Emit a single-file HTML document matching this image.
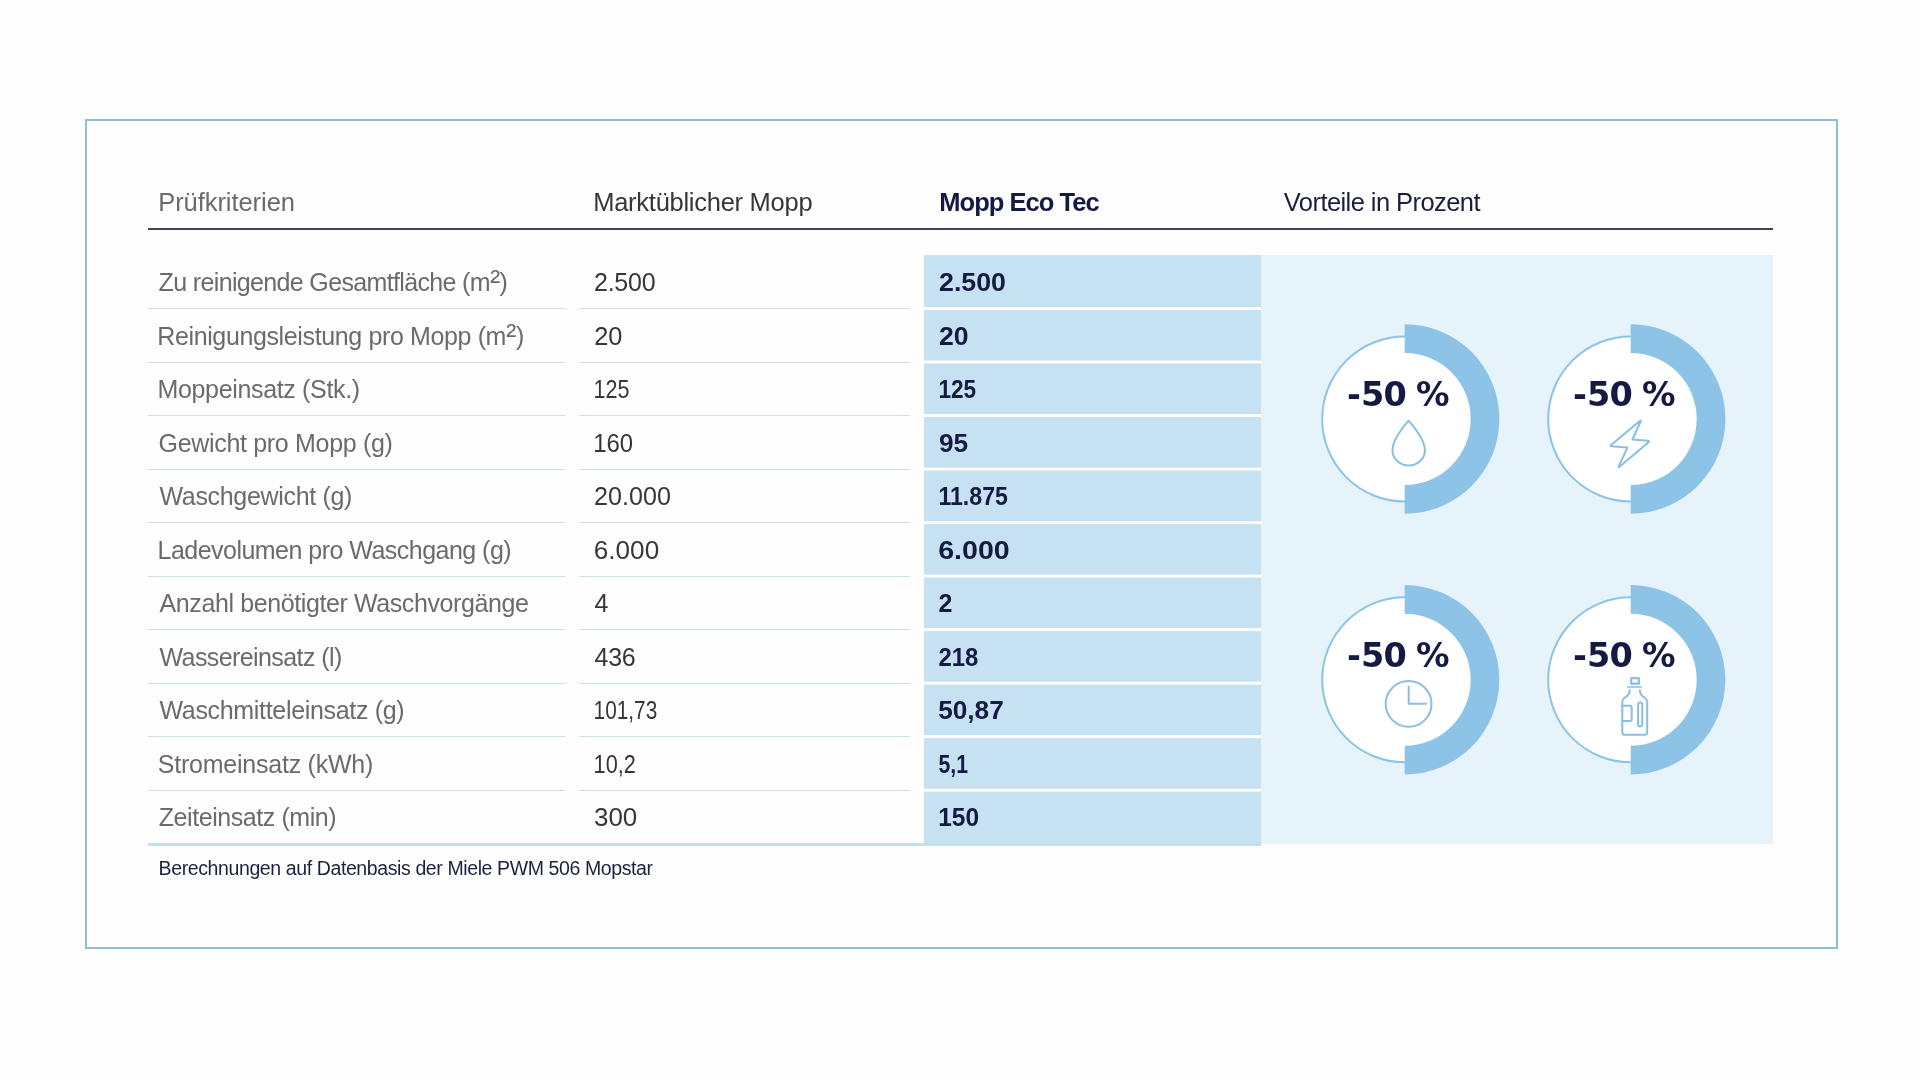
<!DOCTYPE html>
<html lang="de"><head><meta charset="utf-8"><title>Mopp Eco Tec Vergleich</title>
<style>
html,body{margin:0;padding:0;background:#fefefe;}
body{width:1920px;height:1080px;overflow:hidden;position:relative;}
svg{position:absolute;left:0;top:0;display:block;will-change:transform;}
</style></head><body>
<svg width="1920" height="1080" viewBox="0 0 1920 1080">
<rect x="86" y="120" width="1751" height="828" fill="none" stroke="#8fbcda" stroke-width="2"/>
<rect x="1261" y="255" width="512" height="589.2" fill="#e6f3fa"/>
<rect x="148" y="228" width="1625" height="2" fill="#43465a"/>
<rect x="924" y="255.00" width="337" height="52.02" fill="#c5e1f2"/>
<rect x="148" y="308" width="417.5" height="1" fill="#c9dfe9"/>
<rect x="579" y="308" width="331" height="1" fill="#c9dfe9"/>
<rect x="924" y="310.02" width="337" height="50.52" fill="#c5e1f2"/>
<rect x="148" y="362" width="417.5" height="1" fill="#c9dfe9"/>
<rect x="579" y="362" width="331" height="1" fill="#c9dfe9"/>
<rect x="924" y="363.54" width="337" height="50.52" fill="#c5e1f2"/>
<rect x="148" y="415" width="417.5" height="1" fill="#c9dfe9"/>
<rect x="579" y="415" width="331" height="1" fill="#c9dfe9"/>
<rect x="924" y="417.06" width="337" height="50.52" fill="#c5e1f2"/>
<rect x="148" y="469" width="417.5" height="1" fill="#c9dfe9"/>
<rect x="579" y="469" width="331" height="1" fill="#c9dfe9"/>
<rect x="924" y="470.58" width="337" height="50.52" fill="#c5e1f2"/>
<rect x="148" y="522" width="417.5" height="1" fill="#c9dfe9"/>
<rect x="579" y="522" width="331" height="1" fill="#c9dfe9"/>
<rect x="924" y="524.10" width="337" height="50.52" fill="#c5e1f2"/>
<rect x="148" y="576" width="417.5" height="1" fill="#c9dfe9"/>
<rect x="579" y="576" width="331" height="1" fill="#c9dfe9"/>
<rect x="924" y="577.62" width="337" height="50.52" fill="#c5e1f2"/>
<rect x="148" y="629" width="417.5" height="1" fill="#c9dfe9"/>
<rect x="579" y="629" width="331" height="1" fill="#c9dfe9"/>
<rect x="924" y="631.14" width="337" height="50.52" fill="#c5e1f2"/>
<rect x="148" y="683" width="417.5" height="1" fill="#c9dfe9"/>
<rect x="579" y="683" width="331" height="1" fill="#c9dfe9"/>
<rect x="924" y="684.66" width="337" height="50.52" fill="#c5e1f2"/>
<rect x="148" y="736" width="417.5" height="1" fill="#c9dfe9"/>
<rect x="579" y="736" width="331" height="1" fill="#c9dfe9"/>
<rect x="924" y="738.18" width="337" height="50.52" fill="#c5e1f2"/>
<rect x="148" y="790" width="417.5" height="1" fill="#c9dfe9"/>
<rect x="579" y="790" width="331" height="1" fill="#c9dfe9"/>
<rect x="924" y="791.70" width="337" height="53.80" fill="#c5e1f2"/>
<rect x="148" y="843" width="1113" height="3" fill="#c4dfe7"/>
<circle cx="1404.7" cy="419" r="82.5" fill="#fff" stroke="#8dc3e7" stroke-width="2"/>
<path d="M1404.7 324.3 A94.7 94.7 0 0 1 1404.7 513.7 L1404.7 485 A66 66 0 0 0 1404.7 353 Z" fill="#8dc3e7"/>
<circle cx="1404.7" cy="679.8" r="82.5" fill="#fff" stroke="#8dc3e7" stroke-width="2"/>
<path d="M1404.7 585.0999999999999 A94.7 94.7 0 0 1 1404.7 774.5 L1404.7 745.8 A66 66 0 0 0 1404.7 613.8 Z" fill="#8dc3e7"/>
<circle cx="1630.7" cy="419" r="82.5" fill="#fff" stroke="#8dc3e7" stroke-width="2"/>
<path d="M1630.7 324.3 A94.7 94.7 0 0 1 1630.7 513.7 L1630.7 485 A66 66 0 0 0 1630.7 353 Z" fill="#8dc3e7"/>
<circle cx="1630.7" cy="679.8" r="82.5" fill="#fff" stroke="#8dc3e7" stroke-width="2"/>
<path d="M1630.7 585.0999999999999 A94.7 94.7 0 0 1 1630.7 774.5 L1630.7 745.8 A66 66 0 0 0 1630.7 613.8 Z" fill="#8dc3e7"/>
<path d="M1408.6 420.7 C1404 426 1392.5 440 1392.5 450.2 A16.2 15.4 0 0 0 1424.9 450.2 C1424.9 440 1413.2 426 1408.6 420.7 Z" fill="none" stroke="#88bfe3" stroke-width="2" stroke-linejoin="round" stroke-linecap="round" stroke-width="2.2"/>
<path d="M1640.59 421.60 Q1641.50 419.60 1639.81 421.01 L1611.14 444.92 Q1609.60 446.20 1611.59 446.36 L1627.40 447.60 L1618.84 466.18 Q1618.00 468.00 1619.53 466.71 L1648.47 442.29 Q1650.00 441.00 1648.01 440.83 L1632.50 439.50 Z" fill="none" stroke="#88bfe3" stroke-width="2" stroke-linejoin="round" stroke-linecap="round" stroke-width="2.2"/>
<circle cx="1408.6" cy="703.9" r="22.9" fill="none" stroke="#88bfe3" stroke-width="2" stroke-linejoin="round" stroke-linecap="round" stroke-width="2.2"/>
<path d="M1408.7 686.5 V703.8 H1426" fill="none" stroke="#88bfe3" stroke-width="2" stroke-linejoin="round" stroke-linecap="round" stroke-width="2.3" stroke-linecap="butt"/>
<g fill="none" stroke="#88bfe3" stroke-width="2" stroke-linejoin="round" stroke-linecap="round" stroke-width="2"><path d="M1630.9 683.6 L1631.4 678.2 H1638.6 L1639.1 683.6 Z" stroke-width="2.3"/><path d="M1627.6 687 H1641.4" stroke-width="1.6"/><path d="M1629.6 690.3 C1629.6 695 1627 696.5 1624.5 698 C1622.8 699 1622.3 700 1622.3 702 V732.6 Q1622.3 734.7 1624.4 734.7 H1645.1 Q1647.2 734.7 1647.2 732.6 V702 C1647.2 700 1646.7 699 1645 698 C1642.5 696.5 1639.9 695 1639.9 690.3"/><path d="M1622.3 705.7 H1629.7 Q1631.7 705.7 1631.7 707.7 V719.1 Q1631.7 721.1 1629.7 721.1 H1622.3"/><rect x="1638.1" y="702.6" width="4.1" height="23.9" rx="2.05"/></g>
<text id="h1" x="158.20" y="210.90" style="font-family:'Liberation Sans',sans-serif;font-size:25.5px;font-weight:normal;fill:#6a6b6d" textLength="136.77" lengthAdjust="spacing">Prüfkriterien</text>
<text id="h2" x="593.20" y="210.90" style="font-family:'Liberation Sans',sans-serif;font-size:25.5px;font-weight:normal;fill:#35373b" textLength="219.42" lengthAdjust="spacing">Marktüblicher Mopp</text>
<text id="h3" x="939.20" y="210.90" style="font-family:'Liberation Sans',sans-serif;font-size:25.5px;font-weight:bold;fill:#141a42" textLength="160.57" lengthAdjust="spacing">Mopp Eco Tec</text>
<text id="h4" x="1283.80" y="210.90" style="font-family:'Liberation Sans',sans-serif;font-size:25.5px;font-weight:normal;fill:#1b1f3e" textLength="196.75" lengthAdjust="spacing">Vorteile in Prozent</text>
<text id="a0" x="158.62" y="291.20" style="font-family:'Liberation Sans',sans-serif;font-size:25px;font-weight:normal;fill:#6a6b6d" textLength="349.31" lengthAdjust="spacing">Zu reinigende Gesamtfläche (m<tspan style="font-size:31px">²</tspan>)</text>
<text id="b0" x="594.00" y="291.20" style="font-family:'Liberation Sans',sans-serif;font-size:25px;font-weight:normal;fill:#35373b" textLength="61.56" lengthAdjust="spacing">2.500</text>
<text id="c0" x="939.00" y="291.20" style="font-family:'Liberation Sans',sans-serif;font-size:25px;font-weight:bold;fill:#141a42" textLength="66.96" lengthAdjust="spacingAndGlyphs">2.500</text>
<text id="a1" x="157.22" y="344.72" style="font-family:'Liberation Sans',sans-serif;font-size:25px;font-weight:normal;fill:#6a6b6d" textLength="367.10" lengthAdjust="spacing">Reinigungsleistung pro Mopp (m<tspan style="font-size:31px">²</tspan>)</text>
<text id="b1" x="594.20" y="344.72" style="font-family:'Liberation Sans',sans-serif;font-size:25px;font-weight:normal;fill:#35373b" textLength="28.21" lengthAdjust="spacingAndGlyphs">20</text>
<text id="c1" x="939.00" y="344.72" style="font-family:'Liberation Sans',sans-serif;font-size:25px;font-weight:bold;fill:#141a42" textLength="29.61" lengthAdjust="spacingAndGlyphs">20</text>
<text id="a2" x="157.50" y="398.24" style="font-family:'Liberation Sans',sans-serif;font-size:25px;font-weight:normal;fill:#6a6b6d" textLength="202.62" lengthAdjust="spacing">Moppeinsatz (Stk.)</text>
<text id="b2" x="593.60" y="398.24" style="font-family:'Liberation Sans',sans-serif;font-size:25px;font-weight:normal;fill:#35373b" textLength="35.92" lengthAdjust="spacingAndGlyphs">125</text>
<text id="c2" x="938.40" y="398.24" style="font-family:'Liberation Sans',sans-serif;font-size:25px;font-weight:bold;fill:#141a42" textLength="37.72" lengthAdjust="spacingAndGlyphs">125</text>
<text id="a3" x="158.50" y="451.76" style="font-family:'Liberation Sans',sans-serif;font-size:25px;font-weight:normal;fill:#6a6b6d" textLength="234.38" lengthAdjust="spacing">Gewicht pro Mopp (g)</text>
<text id="b3" x="593.20" y="451.76" style="font-family:'Liberation Sans',sans-serif;font-size:25px;font-weight:normal;fill:#35373b" textLength="39.92" lengthAdjust="spacingAndGlyphs">160</text>
<text id="c3" x="939.00" y="451.76" style="font-family:'Liberation Sans',sans-serif;font-size:25px;font-weight:bold;fill:#141a42" textLength="29.21" lengthAdjust="spacingAndGlyphs">95</text>
<text id="a4" x="159.50" y="505.28" style="font-family:'Liberation Sans',sans-serif;font-size:25px;font-weight:normal;fill:#6a6b6d" textLength="192.95" lengthAdjust="spacing">Waschgewicht (g)</text>
<text id="b4" x="594.00" y="505.28" style="font-family:'Liberation Sans',sans-serif;font-size:25px;font-weight:normal;fill:#35373b" textLength="76.87" lengthAdjust="spacingAndGlyphs">20.000</text>
<text id="c4" x="938.40" y="505.28" style="font-family:'Liberation Sans',sans-serif;font-size:25px;font-weight:bold;fill:#141a42" textLength="69.49" lengthAdjust="spacingAndGlyphs">11.875</text>
<text id="a5" x="157.50" y="558.80" style="font-family:'Liberation Sans',sans-serif;font-size:25px;font-weight:normal;fill:#6a6b6d" textLength="354.13" lengthAdjust="spacing">Ladevolumen pro Waschgang (g)</text>
<text id="b5" x="593.80" y="558.80" style="font-family:'Liberation Sans',sans-serif;font-size:25px;font-weight:normal;fill:#35373b" textLength="65.36" lengthAdjust="spacingAndGlyphs">6.000</text>
<text id="c5" x="938.20" y="558.80" style="font-family:'Liberation Sans',sans-serif;font-size:25px;font-weight:bold;fill:#141a42" textLength="71.56" lengthAdjust="spacingAndGlyphs">6.000</text>
<text id="a6" x="159.50" y="612.32" style="font-family:'Liberation Sans',sans-serif;font-size:25px;font-weight:normal;fill:#6a6b6d" textLength="369.45" lengthAdjust="spacing">Anzahl benötigter Waschvorgänge</text>
<text id="b6" x="594.60" y="612.32" style="font-family:'Liberation Sans',sans-serif;font-size:25px;font-weight:normal;fill:#35373b">4</text>
<text id="c6" x="938.40" y="612.32" style="font-family:'Liberation Sans',sans-serif;font-size:25px;font-weight:bold;fill:#141a42">2</text>
<text id="a7" x="159.50" y="665.84" style="font-family:'Liberation Sans',sans-serif;font-size:25px;font-weight:normal;fill:#6a6b6d" textLength="182.77" lengthAdjust="spacing">Wassereinsatz (l)</text>
<text id="b7" x="594.60" y="665.84" style="font-family:'Liberation Sans',sans-serif;font-size:25px;font-weight:normal;fill:#35373b" textLength="41.12" lengthAdjust="spacing">436</text>
<text id="c7" x="938.40" y="665.84" style="font-family:'Liberation Sans',sans-serif;font-size:25px;font-weight:bold;fill:#141a42" textLength="39.92" lengthAdjust="spacingAndGlyphs">218</text>
<text id="a8" x="159.50" y="719.36" style="font-family:'Liberation Sans',sans-serif;font-size:25px;font-weight:normal;fill:#6a6b6d" textLength="245.12" lengthAdjust="spacing">Waschmitteleinsatz (g)</text>
<text id="b8" x="593.60" y="719.36" style="font-family:'Liberation Sans',sans-serif;font-size:25px;font-weight:normal;fill:#35373b" textLength="63.67" lengthAdjust="spacingAndGlyphs">101,73</text>
<text id="c8" x="938.20" y="719.36" style="font-family:'Liberation Sans',sans-serif;font-size:25px;font-weight:bold;fill:#141a42" textLength="65.56" lengthAdjust="spacingAndGlyphs">50,87</text>
<text id="a9" x="157.70" y="772.88" style="font-family:'Liberation Sans',sans-serif;font-size:25px;font-weight:normal;fill:#6a6b6d" textLength="215.68" lengthAdjust="spacing">Stromeinsatz (kWh)</text>
<text id="b9" x="593.60" y="772.88" style="font-family:'Liberation Sans',sans-serif;font-size:25px;font-weight:normal;fill:#35373b" textLength="42.27" lengthAdjust="spacingAndGlyphs">10,2</text>
<text id="c9" x="938.40" y="772.88" style="font-family:'Liberation Sans',sans-serif;font-size:25px;font-weight:bold;fill:#141a42" textLength="29.57" lengthAdjust="spacingAndGlyphs">5,1</text>
<text id="a10" x="158.70" y="826.40" style="font-family:'Liberation Sans',sans-serif;font-size:25px;font-weight:normal;fill:#6a6b6d" textLength="177.97" lengthAdjust="spacing">Zeiteinsatz (min)</text>
<text id="b10" x="594.00" y="826.40" style="font-family:'Liberation Sans',sans-serif;font-size:25px;font-weight:normal;fill:#35373b" textLength="43.32" lengthAdjust="spacingAndGlyphs">300</text>
<text id="c10" x="938.20" y="826.40" style="font-family:'Liberation Sans',sans-serif;font-size:25px;font-weight:bold;fill:#141a42" textLength="40.92" lengthAdjust="spacingAndGlyphs">150</text>
<text id="foot" x="158.60" y="875.00" style="font-family:'Liberation Sans',sans-serif;font-size:19.5px;font-weight:normal;fill:#1d2140" textLength="494.46" lengthAdjust="spacing">Berechnungen auf Datenbasis der Miele PWM 506 Mopstar</text>
<text id="p0" x="1346.95" y="406.40" style="font-family:'DejaVu Sans','Liberation Sans',sans-serif;font-size:33.5px;font-weight:bold;fill:#141a42" dx="0 0.25 -1 0 -2.5">-50 %</text>
<text id="p1" x="1346.95" y="667.10" style="font-family:'DejaVu Sans','Liberation Sans',sans-serif;font-size:33.5px;font-weight:bold;fill:#141a42" dx="0 0.25 -1 0 -2.5">-50 %</text>
<text id="p2" x="1572.95" y="406.40" style="font-family:'DejaVu Sans','Liberation Sans',sans-serif;font-size:33.5px;font-weight:bold;fill:#141a42" dx="0 0.25 -1 0 -2.5">-50 %</text>
<text id="p3" x="1572.95" y="667.10" style="font-family:'DejaVu Sans','Liberation Sans',sans-serif;font-size:33.5px;font-weight:bold;fill:#141a42" dx="0 0.25 -1 0 -2.5">-50 %</text>
</svg>
</body></html>
